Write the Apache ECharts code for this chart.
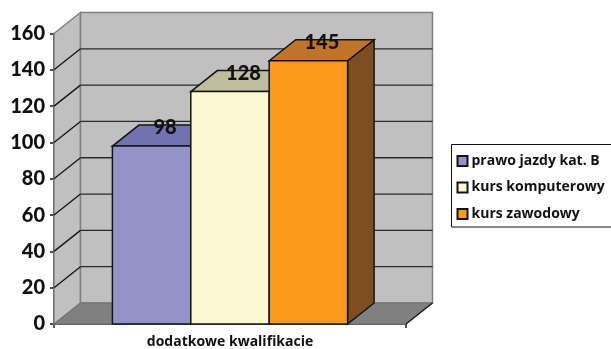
<!DOCTYPE html>
<html>
<head>
<meta charset="utf-8">
<style>html,body{margin:0;padding:0;background:#fff}#chart{width:611px;height:349px}</style>
<script src="https://cdn.jsdelivr.net/npm/echarts@6/dist/echarts.min.js"></script>
</head>
<body>
<div id="chart"></div>
<script>
const categories = ['dodatkowe kwalifikacie'];
const seriesNames = ['prawo jazdy kat. B', 'kurs komputerowy', 'kurs zawodowy'];
const seriesValues = [98, 128, 145];
const frontColors = ['#9393c8', '#fcf8d2', '#fb991d'];
const topColors = ['#7272b0', '#bebe9e', '#c07428'];
const sideColors = ['#5d5d8f', '#8f8d70', '#7d4f20'];
const yTicks = [0, 20, 40, 60, 80, 100, 120, 140, 160];

// Oblique depth of the 3D box, in pixels
const DEPTH_X = 26.5;
const DEPTH_Y = 21;
const FONT = 'Lato, "Open Sans", sans-serif';
const LABEL_FONT = '"Open Sans", Lato, sans-serif';
const EDGE = '#141414';
const BAR_SHARE = 78.4 / 352;

function poly(points, fill, stroke, lineWidth) {
  return {
    type: 'polygon',
    shape: { points },
    style: { fill, stroke: stroke || null, lineWidth: lineWidth || 0 }
  };
}
function seg(a, b, stroke, lineWidth) {
  return {
    type: 'line',
    shape: { x1: a[0], y1: a[1], x2: b[0], y2: b[1] },
    style: { stroke, lineWidth }
  };
}
const back = p => [p[0] + DEPTH_X, p[1] - DEPTH_Y];

// Walls, floor and grid lines of the box
function renderWalls(params, api) {
  const halfBand = api.size([1, 0])[0] / 2;
  const cx = api.coord([0, 0])[0];
  const lo = yTicks[0], hi = yTicks[yTicks.length - 1];
  const y0 = api.coord([0, lo])[1], yTop = api.coord([0, hi])[1];
  const xl = cx - halfBand, xr = cx + halfBand;
  const children = [
    poly([[xl, yTop], back([xl, yTop]), back([xl, y0]), [xl, y0]], '#c0c0c0', '#808080', 1.5),
    poly([back([xl, yTop]), back([xr, yTop]), back([xr, y0]), back([xl, y0])], '#c0c0c0', '#808080', 1.5),
    poly([[xl, y0], back([xl, y0]), back([xr, y0]), [xr, y0]], '#808080', '#707070', 1)
  ];
  yTicks.slice(1, -1).forEach(v => {
    const y = api.coord([0, v])[1];
    children.push(seg([xl, y], back([xl, y]), '#141414', 1.3));
    children.push(seg(back([xl, y]), back([xr, y]), '#2a2a2a', 1.3));
  });
  children.push(seg([xr, y0], back([xr, y0]), '#141414', 1.2));
  return { type: 'group', children };
}

// One 3D column with its value printed above the top face
function makeBarRenderer(index) {
  return function (params, api) {
    const value = api.value(1);
    const band = api.size([1, 0])[0];
    const w = band * BAR_SHARE;
    const c = api.coord([0, value]);
    const x0 = c[0] + (index - 1.5) * w;
    const x1 = x0 + w;
    const yT = c[1];
    const yB = api.coord([0, 0])[1];
    return {
      type: 'group',
      children: [
        poly([[x1, yT], back([x1, yT]), back([x1, yB]), [x1, yB]], sideColors[index], EDGE, 1.5),
        poly([[x0, yT], back([x0, yT]), back([x1, yT]), [x1, yT]], topColors[index], EDGE, 1.5),
        poly([[x0, yT], [x1, yT], [x1, yB], [x0, yB]], frontColors[index], EDGE, 1.5),
        {
          type: 'text',
          z2: 100,
          style: {
            x: (x0 + x1) / 2 + 13.5,
            y: yT - 18.5,
            text: String(value),
            fill: '#111',
            font: '900 20px ' + FONT,
            align: 'center',
            verticalAlign: 'middle'
          }
        }
      ]
    };
  };
}

const chart = echarts.init(document.getElementById('chart'), null, { renderer: 'canvas' });
chart.setOption({
  backgroundColor: '#fff',
  animation: false,
  grid: { left: 54, right: 205, top: 33.5, bottom: 25 },
  xAxis: {
    type: 'category',
    data: categories,
    axisLine: { lineStyle: { color: '#222', width: 1.5 } },
    axisTick: { show: true, length: 4, lineStyle: { color: '#222', width: 1.5 } },
    axisLabel: { color: '#111', fontFamily: LABEL_FONT, fontWeight: 'bold', fontSize: 14, margin: 11 }
  },
  yAxis: {
    type: 'value',
    min: 0,
    max: 160,
    interval: 20,
    splitLine: { show: false },
    axisLine: { show: true, lineStyle: { color: '#111', width: 1.5 } },
    axisTick: { show: true, length: 4, lineStyle: { color: '#111', width: 1.5 } },
    axisLabel: { color: '#111', fontFamily: FONT, fontWeight: 900, fontSize: 20, margin: 9 }
  },
  legend: {
    data: seriesNames,
    orient: 'vertical',
    left: 451.5,
    top: 144.5,
    padding: [9.5, 12, 6, 5],
    itemWidth: 10,
    itemHeight: 10,
    itemGap: 12.5,
    icon: 'rect',
    borderColor: '#111',
    borderWidth: 1,
    textStyle: { color: '#111', fontFamily: LABEL_FONT, fontWeight: 'bold', fontSize: 14, padding: [0, 0, 0, -1] }
  },
  series: [
    {
      name: 'walls',
      type: 'custom',
      silent: true,
      clip: false,
      z: 1,
      renderItem: renderWalls,
      encode: { x: 0, y: 1 },
      data: [[0, 0]]
    }
  ].concat(seriesNames.map((name, i) => ({
    name,
    type: 'custom',
    clip: false,
    z: 2 + i,
    renderItem: makeBarRenderer(i),
    itemStyle: { color: frontColors[i], borderColor: EDGE, borderWidth: 1.2 },
    encode: { x: 0, y: 1 },
    data: [[0, seriesValues[i]]]
  })))
});
</script>
</body>
</html>
